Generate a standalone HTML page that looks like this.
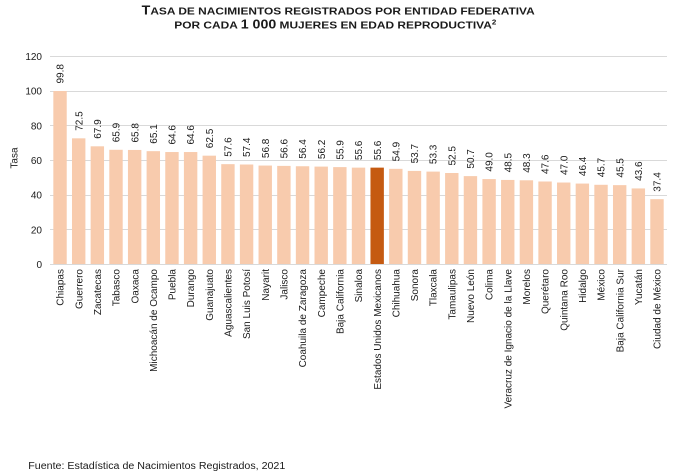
<!DOCTYPE html>
<html>
<head>
<meta charset="utf-8">
<style>
html,body{margin:0;padding:0;background:#fff;}
svg{display:block;}
text{font-family:"Liberation Sans",Arial,sans-serif;fill:#1a1a1a;}
</style>
</head>
<body>
<svg width="680" height="476" viewBox="0 0 680 476" xmlns="http://www.w3.org/2000/svg">
<rect width="680" height="476" fill="#fff"/>
<!-- Title -->
<text x="141.7" y="14.5" font-weight="bold" textLength="393" lengthAdjust="spacingAndGlyphs"><tspan font-size="12.5">T</tspan><tspan font-size="10.5">ASA DE NACIMIENTOS REGISTRADOS POR ENTIDAD FEDERATIVA</tspan></text>
<text x="174.3" y="28.5" font-weight="bold" textLength="322" lengthAdjust="spacingAndGlyphs"><tspan font-size="10.5">POR CADA </tspan><tspan font-size="12.5">1 000</tspan><tspan font-size="10.5"> MUJERES EN EDAD REPRODUCTIVA</tspan><tspan font-size="7" dy="-4">2</tspan></text>

<!-- Gridlines -->
<g stroke="#d9d9d9" stroke-width="1">
<line x1="50" y1="56.5" x2="667" y2="56.5"/>
<line x1="50" y1="91.5" x2="667" y2="91.5"/>
<line x1="50" y1="125.5" x2="667" y2="125.5"/>
<line x1="50" y1="160.5" x2="667" y2="160.5"/>
<line x1="50" y1="195.5" x2="667" y2="195.5"/>
<line x1="50" y1="229.5" x2="667" y2="229.5"/>
<line x1="50" y1="264.5" x2="667" y2="264.5"/>
</g>

<!-- Y tick labels -->
<g font-size="10" text-anchor="end">
<text x="42" y="60">120</text>
<text x="42" y="94.7">100</text>
<text x="42" y="129.3">80</text>
<text x="42" y="164">60</text>
<text x="42" y="198.7">40</text>
<text x="42" y="233.3">20</text>
<text x="42" y="268">0</text>
</g>
<text x="17.5" y="158" font-size="10" text-anchor="middle" transform="rotate(-90 17.5 158)">Tasa</text>

<!-- Bars -->
<g fill="#f8cbad">
<rect x="53.33" y="91.01" width="13.4" height="172.99"/>
<rect x="71.99" y="138.33" width="13.4" height="125.67"/>
<rect x="90.64" y="146.31" width="13.4" height="117.69"/>
<rect x="109.30" y="149.78" width="13.4" height="114.22"/>
<rect x="127.95" y="149.95" width="13.4" height="114.05"/>
<rect x="146.61" y="151.16" width="13.4" height="112.84"/>
<rect x="165.26" y="152.03" width="13.4" height="111.97"/>
<rect x="183.92" y="152.03" width="13.4" height="111.97"/>
<rect x="202.57" y="155.67" width="13.4" height="108.33"/>
<rect x="221.23" y="164.16" width="13.4" height="99.84"/>
<rect x="239.88" y="164.51" width="13.4" height="99.49"/>
<rect x="258.54" y="165.55" width="13.4" height="98.45"/>
<rect x="277.19" y="165.89" width="13.4" height="98.11"/>
<rect x="295.85" y="166.24" width="13.4" height="97.76"/>
<rect x="314.50" y="166.59" width="13.4" height="97.41"/>
<rect x="333.16" y="167.11" width="13.4" height="96.89"/>
<rect x="351.81" y="167.63" width="13.4" height="96.37"/>
<rect x="370.47" y="167.63" width="13.4" height="96.37" fill="#c55a11"/>
<rect x="389.12" y="168.84" width="13.4" height="95.16"/>
<rect x="407.78" y="170.92" width="13.4" height="93.08"/>
<rect x="426.43" y="171.61" width="13.4" height="92.39"/>
<rect x="445.09" y="173.00" width="13.4" height="91.00"/>
<rect x="463.74" y="176.12" width="13.4" height="87.88"/>
<rect x="482.40" y="179.07" width="13.4" height="84.93"/>
<rect x="501.05" y="179.93" width="13.4" height="84.07"/>
<rect x="519.71" y="180.28" width="13.4" height="83.72"/>
<rect x="538.36" y="181.49" width="13.4" height="82.51"/>
<rect x="557.02" y="182.53" width="13.4" height="81.47"/>
<rect x="575.67" y="183.57" width="13.4" height="80.43"/>
<rect x="594.33" y="184.79" width="13.4" height="79.21"/>
<rect x="612.98" y="185.14" width="13.4" height="78.86"/>
<rect x="631.64" y="188.43" width="13.4" height="75.57"/>
<rect x="650.29" y="199.17" width="13.4" height="64.83"/>
</g>

<!-- Data labels -->
<g font-size="10" text-anchor="start">
<text x="63.63" y="83.5" transform="rotate(-90 63.63 83.5)">99.8</text>
<text x="82.29" y="130.8" transform="rotate(-90 82.29 130.8)">72.5</text>
<text x="100.94" y="138.8" transform="rotate(-90 100.94 138.8)">67.9</text>
<text x="119.60" y="142.3" transform="rotate(-90 119.60 142.3)">65.9</text>
<text x="138.25" y="142.5" transform="rotate(-90 138.25 142.5)">65.8</text>
<text x="156.91" y="143.7" transform="rotate(-90 156.91 143.7)">65.1</text>
<text x="175.56" y="144.5" transform="rotate(-90 175.56 144.5)">64.6</text>
<text x="194.22" y="144.5" transform="rotate(-90 194.22 144.5)">64.6</text>
<text x="212.87" y="148.2" transform="rotate(-90 212.87 148.2)">62.5</text>
<text x="231.53" y="156.7" transform="rotate(-90 231.53 156.7)">57.6</text>
<text x="250.18" y="157.0" transform="rotate(-90 250.18 157.0)">57.4</text>
<text x="268.84" y="158.1" transform="rotate(-90 268.84 158.1)">56.8</text>
<text x="287.49" y="158.4" transform="rotate(-90 287.49 158.4)">56.6</text>
<text x="306.15" y="158.7" transform="rotate(-90 306.15 158.7)">56.4</text>
<text x="324.80" y="159.1" transform="rotate(-90 324.80 159.1)">56.2</text>
<text x="343.46" y="159.6" transform="rotate(-90 343.46 159.6)">55.9</text>
<text x="362.11" y="160.1" transform="rotate(-90 362.11 160.1)">55.6</text>
<text x="380.77" y="160.1" transform="rotate(-90 380.77 160.1)">55.6</text>
<text x="399.42" y="161.3" transform="rotate(-90 399.42 161.3)">54.9</text>
<text x="418.08" y="163.4" transform="rotate(-90 418.08 163.4)">53.7</text>
<text x="436.73" y="164.1" transform="rotate(-90 436.73 164.1)">53.3</text>
<text x="455.39" y="165.5" transform="rotate(-90 455.39 165.5)">52.5</text>
<text x="474.04" y="168.6" transform="rotate(-90 474.04 168.6)">50.7</text>
<text x="492.70" y="171.6" transform="rotate(-90 492.70 171.6)">49.0</text>
<text x="511.35" y="172.4" transform="rotate(-90 511.35 172.4)">48.5</text>
<text x="530.01" y="172.8" transform="rotate(-90 530.01 172.8)">48.3</text>
<text x="548.66" y="174.0" transform="rotate(-90 548.66 174.0)">47.6</text>
<text x="567.32" y="175.0" transform="rotate(-90 567.32 175.0)">47.0</text>
<text x="585.97" y="176.1" transform="rotate(-90 585.97 176.1)">46.4</text>
<text x="604.63" y="177.3" transform="rotate(-90 604.63 177.3)">45.7</text>
<text x="623.28" y="177.6" transform="rotate(-90 623.28 177.6)">45.5</text>
<text x="641.94" y="180.9" transform="rotate(-90 641.94 180.9)">43.6</text>
<text x="660.59" y="191.7" transform="rotate(-90 660.59 191.7)">37.4</text>
</g>

<!-- Category labels -->
<g font-size="10" text-anchor="end">
<text x="63.63" y="269" transform="rotate(-90 63.63 269)">Chiapas</text>
<text x="82.29" y="269" transform="rotate(-90 82.29 269)">Guerrero</text>
<text x="100.94" y="269" transform="rotate(-90 100.94 269)">Zacatecas</text>
<text x="119.60" y="269" transform="rotate(-90 119.60 269)">Tabasco</text>
<text x="138.25" y="269" transform="rotate(-90 138.25 269)">Oaxaca</text>
<text x="156.91" y="269" transform="rotate(-90 156.91 269)">Michoacán de Ocampo</text>
<text x="175.56" y="269" transform="rotate(-90 175.56 269)">Puebla</text>
<text x="194.22" y="269" transform="rotate(-90 194.22 269)">Durango</text>
<text x="212.87" y="269" transform="rotate(-90 212.87 269)">Guanajuato</text>
<text x="231.53" y="269" transform="rotate(-90 231.53 269)">Aguascalientes</text>
<text x="250.18" y="269" transform="rotate(-90 250.18 269)">San Luis Potosí</text>
<text x="268.84" y="269" transform="rotate(-90 268.84 269)">Nayarit</text>
<text x="287.49" y="269" transform="rotate(-90 287.49 269)">Jalisco</text>
<text x="306.15" y="269" transform="rotate(-90 306.15 269)">Coahuila de Zaragoza</text>
<text x="324.80" y="269" transform="rotate(-90 324.80 269)">Campeche</text>
<text x="343.46" y="269" transform="rotate(-90 343.46 269)">Baja California</text>
<text x="362.11" y="269" transform="rotate(-90 362.11 269)">Sinaloa</text>
<text x="380.77" y="269" transform="rotate(-90 380.77 269)">Estados Unidos Mexicanos</text>
<text x="399.42" y="269" transform="rotate(-90 399.42 269)">Chihuahua</text>
<text x="418.08" y="269" transform="rotate(-90 418.08 269)">Sonora</text>
<text x="436.73" y="269" transform="rotate(-90 436.73 269)">Tlaxcala</text>
<text x="455.39" y="269" transform="rotate(-90 455.39 269)">Tamaulipas</text>
<text x="474.04" y="269" transform="rotate(-90 474.04 269)">Nuevo León</text>
<text x="492.70" y="269" transform="rotate(-90 492.70 269)">Colima</text>
<text x="511.35" y="269" transform="rotate(-90 511.35 269)">Veracruz de Ignacio de la Llave</text>
<text x="530.01" y="269" transform="rotate(-90 530.01 269)">Morelos</text>
<text x="548.66" y="269" transform="rotate(-90 548.66 269)">Querétaro</text>
<text x="567.32" y="269" transform="rotate(-90 567.32 269)">Quintana Roo</text>
<text x="585.97" y="269" transform="rotate(-90 585.97 269)">Hidalgo</text>
<text x="604.63" y="269" transform="rotate(-90 604.63 269)">México</text>
<text x="623.28" y="269" transform="rotate(-90 623.28 269)">Baja California Sur</text>
<text x="641.94" y="269" transform="rotate(-90 641.94 269)">Yucatán</text>
<text x="660.59" y="269" transform="rotate(-90 660.59 269)">Ciudad de México</text>
</g>

<!-- Footer -->
<text x="28.3" y="469" font-size="10" textLength="257" lengthAdjust="spacingAndGlyphs">Fuente: Estadística de Nacimientos Registrados, 2021</text>
</svg>
</body>
</html>
